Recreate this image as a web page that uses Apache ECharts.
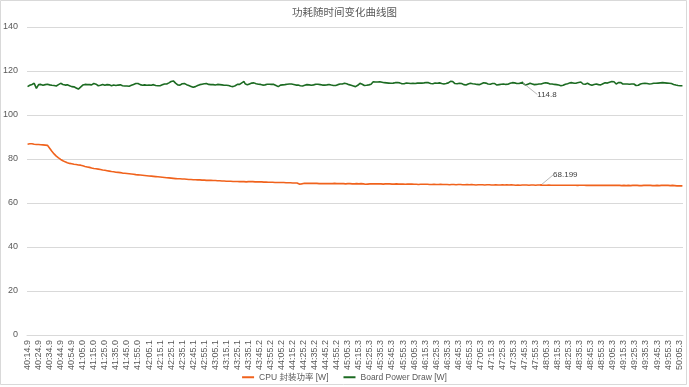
<!DOCTYPE html>
<html><head><meta charset="utf-8">
<script src="https://cdn.jsdelivr.net/npm/echarts@6/dist/echarts.min.js"></script>
<style>html,body{margin:0;padding:0;background:#fff}#c{width:689px;height:387px}</style>
</head><body><div id="c"></div>
<script>
const tickLabels = ['40:14.9','40:24.9','40:34.9','40:44.9','40:54.9','41:05.0','41:15.0','41:25.0','41:35.0','41:45.0','41:55.0','42:05.1','42:15.1','42:25.1','42:35.1','42:45.1','42:55.1','43:05.1','43:15.1','43:25.1','43:35.1','43:45.2','43:55.2','44:05.2','44:15.2','44:25.2','44:35.2','44:45.2','44:55.2','45:05.3','45:15.3','45:25.3','45:35.3','45:45.3','45:55.3','46:05.3','46:15.3','46:25.3','46:35.3','46:45.3','46:55.3','47:05.3','47:15.3','47:25.3','47:35.3','47:45.3','47:55.3','48:05.3','48:15.3','48:25.3','48:35.3','48:45.3','48:55.3','49:05.3','49:15.3','49:25.3','49:35.3','49:45.3','49:55.3','50:05.3'];

const cpuPower = [
86.7,86.4,86.9,86.8,86.9,86.8,86.7,86.7,86.6,86.6,
86.6,86.5,86.5,86.5,86.4,86.4,86.3,86.3,86.2,85.6,
84.9,84.2,83.5,82.9,82.3,81.8,81.3,80.9,80.5,80.1,
79.8,79.5,79.2,79.0,78.7,78.5,78.3,78.2,78.0,77.9,
77.8,77.7,77.6,77.6,77.5,77.4,77.3,77.3,77.2,77.0,
76.9,76.8,76.6,76.5,76.4,76.3,76.2,76.0,75.9,75.8,
75.7,75.6,75.6,75.5,75.4,75.3,75.2,75.1,75.0,74.9,
74.9,74.8,74.7,74.6,74.5,74.4,74.3,74.3,74.2,74.1,
74.0,74.0,73.9,73.8,73.8,73.7,73.6,73.6,73.5,73.5,
73.4,73.3,73.3,73.2,73.2,73.1,73.1,73.0,72.9,72.9,
72.8,72.8,72.7,72.7,72.6,72.6,72.5,72.5,72.4,72.4,
72.3,72.2,72.2,72.1,72.1,72.0,72.0,71.9,71.9,71.8,
71.8,71.7,71.7,71.6,71.6,71.5,71.5,71.4,71.4,71.3,
71.3,71.2,71.2,71.2,71.1,71.1,71.0,71.0,71.0,70.9,
70.9,70.9,70.9,70.8,70.8,70.8,70.7,70.7,70.7,70.7,
70.6,70.6,70.6,70.6,70.5,70.5,70.5,70.5,70.4,70.4,
70.4,70.4,70.3,70.3,70.3,70.3,70.3,70.2,70.2,70.2,
70.2,70.1,70.1,70.1,70.1,70.0,70.0,70.0,70.0,70.0,
69.9,69.9,69.9,69.9,69.9,69.8,69.8,69.8,69.8,69.8,
69.8,69.8,69.7,69.7,69.7,69.7,69.7,69.7,69.6,69.6,
69.7,69.7,69.7,69.6,69.7,69.6,69.6,69.6,69.6,69.6,
69.6,69.5,69.6,69.5,69.5,69.5,69.5,69.5,69.4,69.5,
69.4,69.4,69.4,69.4,69.3,69.4,69.3,69.3,69.3,69.3,
69.3,69.2,69.3,69.2,69.2,69.2,69.2,69.1,69.2,69.1,
69.1,69.1,69.1,69.0,69.1,69.0,68.6,67.8,68.7,68.9,
68.9,68.9,68.9,68.9,68.9,68.8,68.9,68.9,68.9,68.8,
68.9,68.8,68.9,68.8,68.8,68.9,68.8,68.8,68.8,68.8,
68.8,68.9,68.8,68.8,68.8,68.9,68.8,68.8,68.9,68.8,
68.8,68.8,68.8,68.7,68.8,68.8,68.8,68.8,68.7,68.8,
68.8,68.7,68.8,68.8,68.7,68.8,68.7,68.7,68.8,68.7,
68.7,68.7,68.8,68.7,68.7,68.6,68.5,68.3,68.6,68.7,
68.7,68.8,68.7,68.7,68.7,68.8,68.7,68.7,68.7,68.6,
68.7,68.7,68.6,68.7,68.7,68.6,68.7,68.6,68.7,68.6,
68.6,68.7,68.6,68.6,68.7,68.6,68.6,68.5,68.6,68.6,
68.6,68.6,68.5,68.6,68.6,68.5,68.6,68.5,68.6,68.5,
68.5,68.6,68.5,68.5,68.4,68.5,68.5,68.4,68.5,68.5,
68.5,68.4,68.5,68.5,68.4,68.5,68.4,68.4,68.5,68.4,
68.4,68.5,68.4,68.4,68.5,68.4,68.4,68.3,68.4,68.4,
68.4,68.4,68.3,68.4,68.4,68.3,68.4,68.4,68.3,68.4,
68.4,68.3,68.4,68.3,68.3,68.4,68.3,68.3,68.4,68.3,
68.3,68.3,68.4,68.3,68.3,68.3,68.2,68.3,68.3,68.3,
68.3,68.2,68.3,68.3,68.2,68.3,68.3,68.2,68.3,68.2,
68.2,68.3,68.2,68.2,68.3,68.2,68.2,68.3,68.2,68.2,
68.3,68.2,68.2,68.2,68.3,68.2,68.2,68.2,68.3,68.2,
68.2,68.2,68.1,68.2,68.2,68.2,68.1,68.2,68.2,68.2,
68.2,68.1,68.2,68.2,68.1,68.2,68.2,68.1,68.2,68.2,
68.1,68.2,68.2,68.1,68.2,68.199,68.1,68.2,68.1,68.2,
68.1,68.1,68.2,68.1,68.1,68.2,68.1,68.1,68.1,68.2,
68.1,68.1,68.1,68.2,68.1,68.1,68.1,68.0,68.1,68.1,
68.1,68.0,68.1,68.1,68.1,68.0,68.1,68.1,68.0,68.1,
68.1,68.0,68.1,68.0,68.1,68.1,68.0,68.1,68.0,68.1,
68.0,68.1,68.0,68.0,68.1,68.0,68.0,68.1,68.0,68.0,
68.0,68.1,68.0,68.0,68.0,68.1,68.0,68.0,68.0,68.1,
68.0,68.0,68.0,67.9,68.0,68.0,68.0,68.0,67.9,68.0,
68.0,68.0,67.9,68.0,68.0,68.0,67.9,68.0,68.0,67.9,
68.0,67.9,68.0,68.0,67.9,68.0,67.9,68.0,68.0,67.9,
68.0,67.9,68.0,67.9,68.0,68.0,67.9,68.0,67.9,68.0,
68.0,68.0,67.9,68.0,68.0,68.1,68.0,68.0,68.0,68.0,
68.0,68.0,67.9,68.0,68.0,67.9,67.9,67.9,67.8,67.9,
67.8,67.8,67.8,67.7];

const boardPower = [
112.9,113.2,113.5,113.8,113.9,114.0,114.4,113.5,112.1,113.0,
113.8,114.1,113.9,113.6,113.5,113.6,113.8,114.1,114.0,113.8,
113.7,113.6,113.5,113.6,113.4,113.3,113.2,113.5,113.8,114.2,
114.4,114.2,113.9,113.7,113.6,113.5,113.7,113.4,113.3,113.1,
112.9,113.0,112.8,112.6,112.3,111.9,111.8,112.2,112.7,113.1,
113.6,114.1,113.9,113.7,113.8,113.6,113.8,113.5,113.7,114.0,
114.3,114.4,114.0,113.6,113.3,113.2,113.5,113.8,113.9,113.7,
113.5,113.6,113.8,113.9,113.7,113.5,113.3,113.4,113.6,113.5,
113.4,113.5,113.6,113.5,113.7,113.4,113.3,113.5,113.2,113.2,
113.2,113.3,113.1,113.3,113.5,113.7,113.9,114.1,114.3,114.4,
114.3,114.0,113.8,113.6,113.5,113.6,113.7,113.6,113.5,113.6,
113.6,113.7,113.5,113.6,113.8,113.6,113.4,113.5,113.3,113.3,
113.3,113.5,113.7,113.9,114.1,113.9,114.1,114.3,114.6,114.9,
115.2,115.4,115.5,115.0,114.5,114.0,113.7,113.5,113.6,113.9,
114.2,114.4,114.3,114.0,113.8,113.6,113.4,113.2,113.0,112.8,
112.6,112.7,112.9,113.2,113.4,113.6,113.8,113.9,114.0,114.1,
114.2,114.4,114.3,114.0,113.9,113.7,113.8,113.6,113.8,113.7,
113.6,113.8,113.9,113.7,113.8,113.9,113.7,113.6,113.5,113.6,
113.5,113.7,113.4,113.3,113.1,113.0,112.9,113.0,113.3,113.7,
113.9,114.1,113.9,114.1,114.6,115.3,115.2,114.2,113.6,113.7,
114.0,114.1,114.3,114.5,114.7,114.6,114.4,114.2,114.1,114.0,
114.1,113.9,113.7,113.6,113.6,113.7,113.9,114.0,114.1,114.0,
114.1,113.9,113.8,113.9,113.7,113.4,113.0,112.9,113.2,113.6,
113.8,113.7,113.9,113.8,113.9,114.0,113.9,114.1,114.0,114.1,
114.0,113.9,113.7,113.6,113.5,113.6,113.4,113.3,113.2,113.2,
113.3,113.5,113.7,113.8,113.9,113.7,113.6,113.5,113.5,113.7,
113.8,114.0,114.1,114.0,113.9,113.8,113.7,113.6,113.5,113.6,
113.5,113.7,113.8,113.9,113.7,113.6,113.5,113.4,113.3,113.4,
113.6,113.8,114.0,114.1,114.0,114.1,114.3,114.4,114.3,114.2,
114.0,113.8,113.6,113.5,113.4,113.2,113.0,112.9,113.1,113.5,
114.1,114.4,114.2,114.0,113.7,113.4,113.3,113.5,113.6,113.7,
113.8,114.0,114.6,115.1,115.1,115.0,115.1,115.0,115.1,115.1,
115.0,114.9,114.8,114.7,114.7,114.6,114.5,114.5,114.4,114.4,
114.4,114.5,114.6,114.7,114.8,114.8,114.7,114.6,114.4,114.2,
114.1,114.2,114.4,114.5,114.5,114.4,114.4,114.3,114.4,114.4,
114.4,114.3,114.4,114.5,114.4,114.5,114.6,114.5,114.5,114.6,
114.7,114.8,114.8,114.7,114.5,114.3,114.1,114.2,114.4,114.5,
114.5,114.4,114.5,114.6,114.4,114.3,114.2,114.1,114.1,114.3,
114.4,114.6,114.9,115.3,115.5,115.2,114.8,114.3,114.1,114.2,
114.3,114.4,114.4,114.3,114.0,113.8,113.5,113.6,113.9,114.1,
114.3,114.4,114.3,114.2,114.1,114.1,114.0,113.9,113.8,113.8,
113.9,114.2,114.5,114.7,114.7,114.5,114.3,114.1,114.0,114.0,
114.1,114.3,114.4,114.3,114.0,113.6,113.7,113.8,113.9,114.0,
114.1,114.1,114.0,113.9,113.9,114.0,114.2,114.4,114.6,114.7,
114.7,114.6,114.4,114.3,114.2,114.3,114.4,114.6,114.8,114.3,
113.9,113.6,113.8,114.0,114.2,114.4,114.3,114.1,113.9,113.8,
113.8,113.9,114.0,114.1,114.0,114.1,114.2,114.4,114.6,114.7,
114.7,114.5,114.3,114.1,114.0,114.1,114.0,113.9,113.8,113.8,
113.7,113.6,113.5,113.3,113.3,113.5,113.8,114.0,114.1,114.2,
114.4,114.6,114.7,114.7,114.5,114.4,114.4,114.5,114.6,114.8,
115.0,115.0,114.6,114.1,113.8,114.0,114.3,114.4,114.2,113.9,
113.6,113.5,113.7,113.9,114.1,114.1,114.0,113.8,113.6,113.7,
113.9,114.2,114.5,114.7,114.6,114.5,114.7,114.9,115.0,115.2,
115.2,115.1,114.6,114.1,114.3,114.7,115.0,114.8,114.4,114.1,
114.1,114.1,114.0,114.1,114.1,114.0,114.1,114.1,114.0,114.1,
113.8,113.4,113.3,113.5,113.8,114.1,114.2,114.3,114.4,114.4,
114.4,114.3,114.2,114.1,114.1,114.2,114.3,114.4,114.4,114.4,
114.4,114.5,114.5,114.6,114.7,114.7,114.7,114.6,114.6,114.5,
114.5,114.4,114.4,114.3,114.1,113.9,113.7,113.6,113.5,113.4,
113.3,113.3,113.3,113.3];

const cpuLabelIndex = 465;
const boardLabelIndex = 448;

const ORANGE = '#f0621c';
const GREEN = '#1c6b22';
const FONT = "'Liberation Sans','Noto Sans CJK SC',sans-serif";

const categories = boardPower.map((_, i) => (i % 10 === 0 ? tickLabels[i / 10] : ''));

function withLabel(values, idx, color) {
  return values.map((v, i) => i === idx ? {
    value: v,
    symbol: 'circle',
    symbolSize: 2,
    itemStyle: { color: color, opacity: 1 },
    label: { show: true, position: 'right', distance: 0, formatter: '{c}', fontSize: 8, color: '#404040', fontFamily: FONT, opacity: 1 },
    labelLine: { show: true, lineStyle: { color: '#a6a6a6', width: 0.8 } }
  } : v);
}

const chart = echarts.init(document.getElementById('c'));
chart.setOption({
  animation: false,
  backgroundColor: '#fff',
  title: {
    text: '功耗随时间变化曲线图', left: 'center', top: 3,
    textStyle: { fontSize: 10.5, fontWeight: 'normal', color: '#595959', fontFamily: FONT }
  },
  legend: {
    top: 368, left: 'center', icon: 'rect', itemWidth: 12, itemHeight: 2, itemGap: 15,
    textStyle: { fontSize: 8.5, color: '#595959', fontFamily: FONT },
    data: ['CPU 封装功率 [W]', 'Board Power Draw [W]']
  },
  grid: { left: 26, right: 6, top: 27, bottom: 52, containLabel: false },
  xAxis: {
    type: 'category', data: categories, boundaryGap: true,
    axisLine: { lineStyle: { color: '#d9d9d9' } },
    axisTick: { show: false },
    axisLabel: { interval: 9, rotate: 90, fontSize: 9, color: '#595959', margin: 5, fontFamily: FONT },
    splitLine: { show: false }
  },
  yAxis: {
    type: 'value', min: 0, max: 140, interval: 20,
    axisLine: { show: false }, axisTick: { show: false },
    axisLabel: { fontSize: 9, color: '#595959', margin: 9, fontFamily: FONT },
    splitLine: { lineStyle: { color: '#d9d9d9', width: 1 } }
  },
  graphic: [{
    type: 'rect', silent: true, z: -10,
    shape: { x: 0.5, y: 0.5, width: 686, height: 384 },
    style: { fill: 'none', stroke: '#d9d9d9', lineWidth: 1 }
  }],
  series: [
    {
      name: 'CPU 封装功率 [W]', type: 'line', data: withLabel(cpuPower, cpuLabelIndex, ORANGE),
      symbol: 'none', showSymbol: true, showAllSymbol: true, silent: true,
      lineStyle: { color: ORANGE, width: 1.6 }, itemStyle: { color: ORANGE },
      labelLayout: function () { return { dx: 11, dy: -10 }; },
      emphasis: { disabled: true }
    },
    {
      name: 'Board Power Draw [W]', type: 'line', data: withLabel(boardPower, boardLabelIndex, GREEN),
      symbol: 'none', showSymbol: true, showAllSymbol: true, silent: true,
      lineStyle: { color: GREEN, width: 1.6 }, itemStyle: { color: GREEN },
      labelLayout: function () { return { dx: 14, dy: 12 }; },
      emphasis: { disabled: true }
    }
  ]
});
</script>
</body></html>
